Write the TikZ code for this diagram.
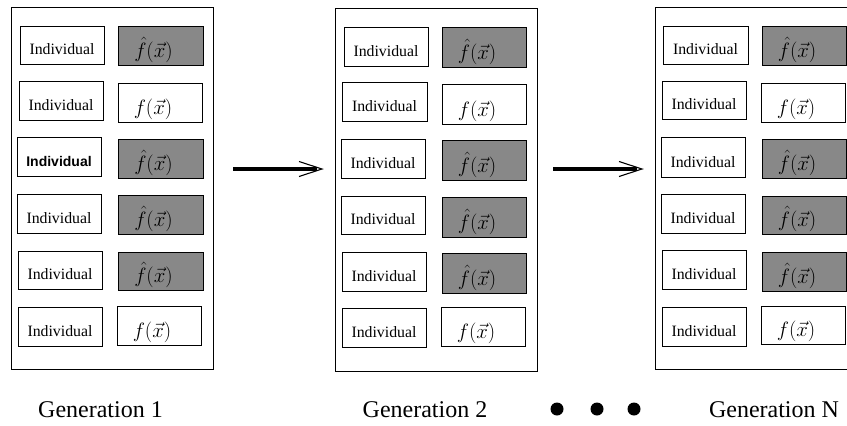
\documentclass[tikz,border=0pt]{standalone}
\usepackage{fontspec}
\setmainfont{Liberation Serif}
\newfontfamily\boldsans{Liberation Sans}
\definecolor{boxgray}{RGB}{136,136,136}
\tikzset{
 ibox/.style={draw=black, line width=0.8pt, fill=white, inner sep=0pt, outer sep=0pt},
 gbox/.style={ibox, fill=boxgray},
 itext/.style={anchor=base, inner sep=0pt, font=\fontsize{15.8}{18}\selectfont},
 btext/.style={anchor=base, inner sep=0pt, font=\boldsans\bfseries\fontsize{14}{17}\selectfont},
 mtext/.style={anchor=base, inner sep=0pt, font=\fontsize{21}{25}\selectfont},
 panel/.style={draw=black, line width=0.8pt, inner sep=0pt, outer sep=0pt},
 gentext/.style={anchor=base, inner sep=0pt, font=\fontsize{24}{28}\selectfont},
 dotnode/.style={circle, fill=black, inner sep=0pt, minimum size=13pt},
 shaft/.style={line width=4pt},
 barb/.style={line width=1.1pt, line join=miter}
}
\newcommand\BoxAt[6]{\node[#6, minimum width={(#4-#2)*1pt}, minimum height={(#5-#3)*1pt}] (#1) at ({(#2+#4)/2},{(#3+#5)/2}) {};}
\newcommand\IndLabel[2][itext]{\node[#1] (#2t) at ([yshift=10pt]#2.south) {Individual};}
\newcommand\FLabel[2]{\node[mtext] (#1t) at ([xshift=-7pt,yshift=8pt]#1.south) {$#2$};}
\newcommand\fh{\hat f(\vec x)}
\newcommand\fp{f(\vec x)}
\begin{document}
\begin{tikzpicture}[x=1pt,y=-1pt]
\useasboundingbox (0,0) rectangle (847,426);
% panels
\BoxAt{P1}{11}{7}{213}{369}{panel}
\BoxAt{P2}{335}{8}{537}{371}{panel}
\begin{scope}
\clip (0,0) rectangle (847,426);
\BoxAt{P3}{655}{7}{866}{369}{panel}
\end{scope}
% panel 1
\BoxAt{a11}{20}{26}{104}{64}{ibox}   \IndLabel{a11}
\BoxAt{f11}{118}{26}{203}{65}{gbox}  \FLabel{f11}{\fh}
\BoxAt{a12}{19}{81}{103}{120}{ibox}  \IndLabel{a12}
\BoxAt{f12}{118}{83}{202}{122}{ibox} \FLabel{f12}{\fp}
\BoxAt{a13}{17}{137}{101}{176}{ibox} \IndLabel[btext]{a13}
\BoxAt{f13}{118}{139}{203}{178}{gbox} \FLabel{f13}{\fh}
\BoxAt{a14}{17}{194}{101}{233}{ibox} \IndLabel{a14}
\BoxAt{f14}{118}{195}{203}{234}{gbox} \FLabel{f14}{\fh}
\BoxAt{a15}{18}{251}{102}{289}{ibox} \IndLabel{a15}
\BoxAt{f15}{118}{252}{203}{290}{gbox} \FLabel{f15}{\fh}
\BoxAt{a16}{18}{307}{102}{346}{ibox} \IndLabel{a16}
\BoxAt{f16}{117}{306}{201}{345}{ibox} \FLabel{f16}{\fp}
% panel 2
\BoxAt{a21}{344}{27}{428}{66}{ibox}   \IndLabel{a21}
\BoxAt{f21}{442}{27}{526}{67}{gbox}   \FLabel{f21}{\fh}
\BoxAt{a22}{342}{82}{427}{121}{ibox}  \IndLabel{a22}
\BoxAt{f22}{442}{84}{526}{124}{ibox}  \FLabel{f22}{\fp}
\BoxAt{a23}{341}{139}{425}{178}{ibox} \IndLabel{a23}
\BoxAt{f23}{442}{140}{526}{180}{gbox} \FLabel{f23}{\fh}
\BoxAt{a24}{341}{196}{425}{234}{ibox} \IndLabel{a24}
\BoxAt{f24}{442}{197}{526}{237}{gbox} \FLabel{f24}{\fh}
\BoxAt{a25}{342}{252}{426}{291}{ibox} \IndLabel{a25}
\BoxAt{f25}{442}{253}{526}{293}{gbox} \FLabel{f25}{\fh}
\BoxAt{a26}{342}{308}{426}{347}{ibox} \IndLabel{a26}
\BoxAt{f26}{441}{307}{525}{346}{ibox} \FLabel{f26}{\fp}
% panel 3
\BoxAt{a31}{663}{26}{748}{64}{ibox}   \IndLabel{a31}
\BoxAt{f31}{762}{26}{846}{65}{gbox}   \FLabel{f31}{\fh}
\BoxAt{a32}{662}{81}{746}{119}{ibox}  \IndLabel{a32}
\BoxAt{f32}{761}{83}{845}{122}{ibox}  \FLabel{f32}{\fp}
\BoxAt{a33}{661}{137}{745}{177}{ibox} \IndLabel{a33}
\BoxAt{f33}{762}{139}{846}{178}{gbox} \FLabel{f33}{\fh}
\BoxAt{a34}{661}{194}{745}{233}{ibox} \IndLabel{a34}
\BoxAt{f34}{762}{196}{846}{234}{gbox} \FLabel{f34}{\fh}
\BoxAt{a35}{662}{250}{746}{289}{ibox} \IndLabel{a35}
\BoxAt{f35}{762}{252}{846}{291}{gbox} \FLabel{f35}{\fh}
\BoxAt{a36}{662}{307}{746}{346}{ibox} \IndLabel{a36}
\BoxAt{f36}{761}{306}{845}{344}{ibox} \FLabel{f36}{\fp}
% arrows
\coordinate (s1) at (233,169); \coordinate (e1) at (322,169);
\coordinate (s2) at (553,169); \coordinate (e2) at (642,169);
\foreach \s/\e in {s1/e1, s2/e2}{
 \draw[shaft] (\s) -- ([xshift=-5pt]\e);
 \draw[barb] ([xshift=-23pt,yshift=7.5pt]\e) -- (\e) -- ([xshift=-23pt,yshift=-7.5pt]\e);
}
% labels
\node[gentext] (g1) at (100.5,417) {Generation 1};
\node[gentext] (g2) at (425,417) {Generation 2};
\node[gentext] (gN) at (774,417) {Generation N};
\node[dotnode] (d1) at (557,409) {};
\node[dotnode] (d2) at (597,409) {};
\node[dotnode] (d3) at (634,409) {};
\end{tikzpicture}
\end{document}
